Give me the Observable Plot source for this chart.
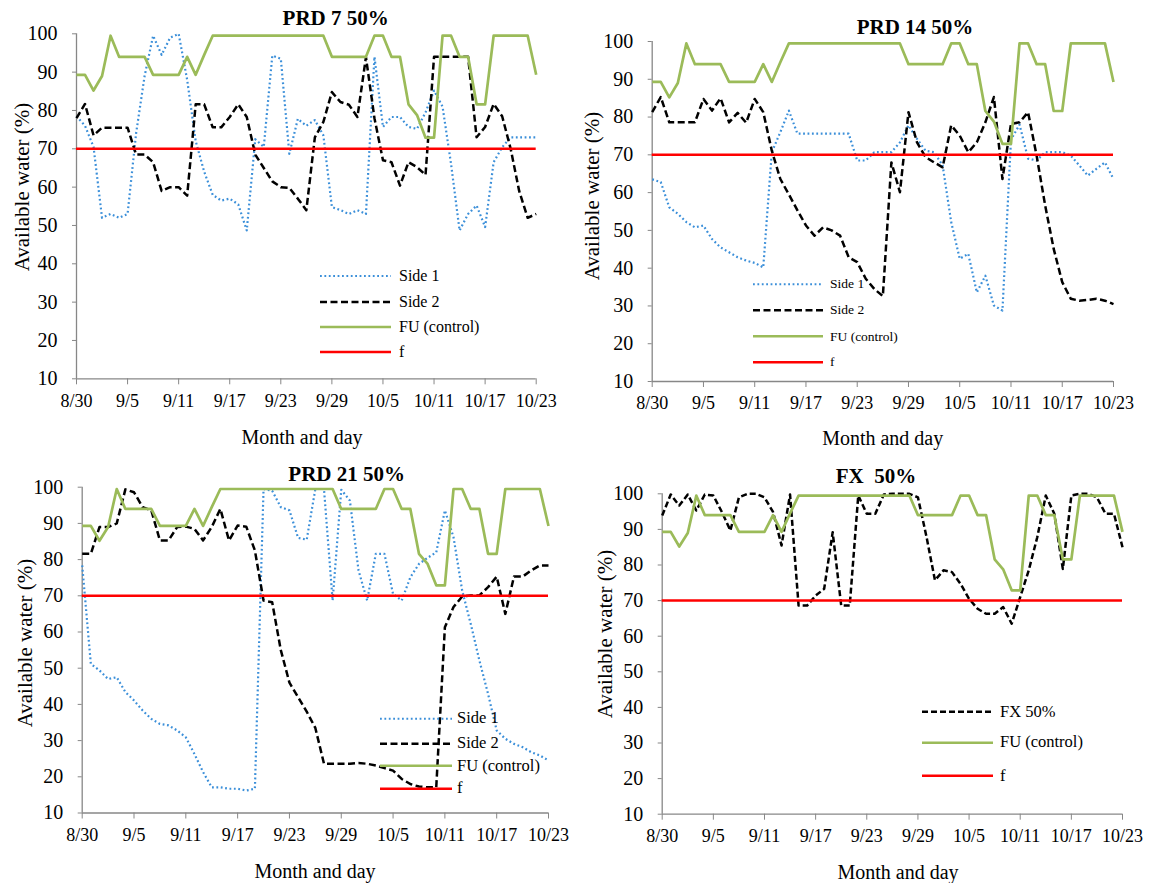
<!DOCTYPE html>
<html><head><meta charset="utf-8">
<script src="https://cdn.jsdelivr.net/npm/d3@7"></script>
<script src="https://cdn.jsdelivr.net/npm/@observablehq/plot@0.6"></script>
<style>
html,body{margin:0;padding:0;background:#fff;}
#root{position:relative;width:1157px;height:883px;overflow:hidden;font-family:"Liberation Serif","Times New Roman",serif;color:#000;}
.panel{position:absolute;}
.panel svg{display:block;}
.panel svg text{font-family:"Liberation Serif","Times New Roman",serif;}
.abs{position:absolute;white-space:pre;line-height:1;font-family:"Liberation Serif","Times New Roman",serif;}
.title{font-weight:bold;font-size:21px;transform:translate(-50%,-50%);}
.xlab{font-size:20px;transform:translate(-50%,-50%);}
.ylab{font-size:21px;transform:translate(-50%,-50%) rotate(-90deg);}
.leg{display:flex;align-items:center;transform:translateY(-50%);}
.leg svg{display:block;}
</style></head><body><div id="root"></div>
<script>
// ---------- data ----------
const dayTicks = [0, 6, 12, 18, 24, 30, 36, 42, 48, 54];
const dayTickLabels = ["8/30", "9/5", "9/11", "9/17", "9/23", "9/29", "10/5", "10/11", "10/17", "10/23"];
const yTicks = [10, 20, 30, 40, 50, 60, 70, 80, 90, 100];
const fLevel = [70];

const fuControl = [89.3, 89.3, 85.2, 89, 99.5, 94, 94, 94, 94, 89.3, 89.3, 89.3, 89.3, 94, 89.3, 94.5,
  99.5, 99.5, 99.5, 99.5, 99.5, 99.5, 99.5, 99.5, 99.5, 99.5, 99.5, 99.5, 99.5, 99.5,
  94, 94, 94, 94, 94, 99.5, 99.5, 94, 94, 81.6, 78.8, 72.9, 72.9, 99.5, 99.5, 94, 94, 81.6, 81.6,
  99.5, 99.5, 99.5, 99.5, 99.5, 89.3];

const prd7Side1 = [78.5, 76, 70.5, 52, 53, 52, 53, 74, 89, 99.5, 94.5, 99, 100, 88, 72, 64, 58, 56.5, 57, 55.5,
  48.7, 72.5, 70.5, 94.3, 93.5, 68.7, 77.8, 76, 77.5, 73.5, 54.8, 54, 53, 54, 53, 94, 75.7, 78.3, 78.3, 75.7,
  75.2, 79.5, 85.2, 81, 66, 48.7, 53, 55.2, 49.6, 66.5, 70.4, 73, 73, 73, 73];
const prd7Side2 = [78, 81.7, 73.5, 75.5, 75.5, 75.5, 75.5, 68.5, 68.5, 66.5, 59, 60, 60, 57.8, 81.6, 81.6, 75.6, 75.6, 78.3, 81.6,
  78.3, 68.5, 65, 61.5, 60, 59.8, 57, 54, 73, 77, 84.8, 82.2, 81.5, 78.3, 93.9, 78, 67, 66.5, 60.4, 66.5,
  65.2, 63.2, 94, 94, 94, 94, 94, 73, 75.7, 81.7, 78.5, 70, 59, 52, 53];

const prd14Side1 = [63.5, 62.8, 56.1, 54.4, 52.2, 50.8, 51.3, 47.7, 45.5, 44.2, 42.9, 42, 41.4, 40.2, 70.7, 76, 81.7, 75.6, 75.6, 75.6,
  75.6, 75.6, 75.6, 75.6, 68.5, 68.5, 70.7, 70.7, 70.7, 73.3, 77.8, 74.2, 71.1, 70.7, 67.2, 52.2, 42.5, 43.8, 33.6, 38,
  30.1, 28.8, 74, 78, 69, 68.5, 70.7, 70.7, 70.7, 69.8, 67.2, 64.5, 66.3, 68, 63.6];
const prd14Side2 = [81.3, 85.3, 78.6, 78.6, 78.6, 78.6, 84.8, 81.7, 85, 78.6, 81.1, 78.5, 84.8, 81.3, 71.1, 63.6, 59.5, 55.3, 51.3, 48.6,
  50.8, 50, 48.6, 42.9, 41.6, 37.2, 34.5, 32.6, 68, 60.1, 81.3, 73.3, 69.4, 68, 66.7, 77.8, 75.1, 70.7, 73.3, 78.6,
  85.3, 63.6, 78.2, 78.6, 81.3, 69.8, 56.6, 45.1, 36.3, 31.9, 31.4, 31.6, 31.9, 31.4, 30.5];

const prd21Side1 = [78.4, 51.2, 49.4, 47, 47.5, 43.4, 41.1, 38.3, 36, 34.6, 34.2, 32.8, 30.9, 26.3, 21.3, 17.1, 17.1, 16.7, 16.7, 16.2,
  16.7, 99.5, 99, 94.5, 93.6, 86, 85.5, 99.5, 99.5, 68.7, 99.3, 96.3, 77, 68.7, 81.6, 81.6, 70.5, 68.7, 75.1, 78.8,
  80.5, 82, 93.6, 86.2, 71.5, 62.2, 52.1, 42.9, 32.8, 30.5, 29.1, 28.2, 26.8, 25.9, 24.5];
const prd21Side2 = [81.6, 81.6, 89, 89, 90, 99.4, 98.6, 94.5, 93.6, 85.3, 85.3, 89, 89.1, 88.5, 85.3, 89, 94, 85.3, 89.4, 89.1,
  82.5, 68.7, 68.2, 55, 46, 42, 38, 33.5, 23.6, 23.6, 23.6, 23.6, 23.8, 23.6, 23.1, 22.4, 21.7, 19.4, 18, 17.3,
  17.1, 17.1, 61.3, 66.9, 69.8, 70.1, 70.1, 72.4, 75.3, 65, 75.3, 75.3, 77, 78.4, 78.4];

const fx50 = [93.9, 99.8, 96.7, 99.8, 95.3, 99.8, 99.5, 94.9, 89.7, 99, 100, 100, 99, 94.9, 85.5, 99.8, 68.6, 68.6, 71.4, 73.3,
  89.2, 68.6, 68.6, 99.5, 94.4, 94.4, 99.8, 100, 100, 100, 99, 88, 75.7, 78.5, 78, 74.7, 70.5, 67.7, 66.3, 66.3,
  68.2, 63.5, 71, 78.5, 87.8, 99.5, 94.4, 78.9, 99.5, 100, 100, 99, 94.4, 94.4, 85];

// ---------- styles ----------
const S1 = {label: "Side 1", stroke: "#3b8fd9", strokeWidth: 2.2, dash: "1.8,2.6"};
const S2 = {label: "Side 2", stroke: "#000000", strokeWidth: 2.5, dash: "7,3.5"};
const FX = {label: "FX 50%", stroke: "#000000", strokeWidth: 2.5, dash: "6,3"};
const FU = {label: "FU (control)", stroke: "#9bbb59", strokeWidth: 2.7, dash: null};
const FF = {label: "f", stroke: "#ff0000", strokeWidth: 2.5, dash: null};
const axisGray = "#878787";
const serif = "'Liberation Serif', 'Times New Roman', serif";

const labelOf = new Map(dayTicks.map((d, i) => [d, dayTickLabels[i]]));

const panels = [
  {left: 0, top: 0, w: 578, h: 441, ml: 76, mr: 42.3, mt: 33.3, mb: 62.7,
   title: "PRD 7 50%", tx: 335.7, ty: 18.3, xlx: 302, xly: 436.7, ylx: 22, yly: 187,
   series: [[prd7Side1, S1], [prd7Side2, S2], [fuControl, FU]],
   legend: {x: 320, len: 71, gap: 8, fs: 16, ys: [276, 301.7, 327, 351.7], items: [S1, S2, FU, FF]}},
  {left: 578, top: 0, w: 579, h: 441, ml: 73.7, mr: 44, mt: 41, mb: 60,
   title: "PRD 14 50%", tx: 915, ty: 27, xlx: 882.7, xly: 438, ylx: 592, yly: 196,
   series: [[prd14Side1, S1], [prd14Side2, S2], [fuControl, FU]],
   legend: {x: 753, len: 70, gap: 7, fs: 13.5, ys: [284, 310, 336.7, 362.3], items: [S1, S2, FU, FF]}},
  {left: 0, top: 441, w: 578, h: 442, ml: 81.7, mr: 30, mt: 45.7, mb: 70.5,
   title: "PRD 21 50%", tx: 346.7, ty: 474, xlx: 315, xly: 871, ylx: 25, yly: 643,
   series: [[prd21Side1, S1], [prd21Side2, S2], [fuControl, FU]],
   legend: {x: 380, len: 72, gap: 5, fs: 16.5, ys: [718.3, 743.3, 766, 788.3], items: [S1, S2, FU, FF]}},
  {left: 578, top: 441, w: 579, h: 442, ml: 83.7, mr: 35, mt: 52.3, mb: 69.3,
   title: "FX  50%", tx: 876, ty: 476, xlx: 898, xly: 871.7, ylx: 604.5, yly: 634,
   series: [[fx50, FX], [fuControl, FU]],
   legend: {x: 922, len: 71, gap: 7, fs: 16.5, ys: [711.7, 742.3, 776], items: [FX, FU, FF]}}
];

const root = document.getElementById("root");

function addText(cls, text, x, y) {
  const d = document.createElement("div");
  d.className = "abs " + cls;
  d.style.left = x + "px";
  d.style.top = y + "px";
  d.textContent = text;
  root.appendChild(d);
}

for (const p of panels) {
  const lineMarks = p.series.map(([values, st]) => Plot.line(values, {
    x: (d, i) => i, y: d => d,
    stroke: st.stroke, strokeWidth: st.strokeWidth,
    strokeDasharray: st.dash || undefined, strokeLinejoin: "round", strokeLinecap: "butt"
  }));
  const chart = Plot.plot({
    width: p.w, height: p.h,
    marginLeft: p.ml, marginRight: p.mr, marginTop: p.mt, marginBottom: p.mb,
    style: {fontFamily: serif, background: "transparent", color: "#000", overflow: "visible"},
    x: {domain: [0, 54]},
    y: {domain: [10, 100]},
    marks: [
      Plot.axisY({ticks: yTicks, tickSize: 4, tickPadding: 15, fontSize: 20, fontFamily: serif, label: null, stroke: axisGray}),
      Plot.axisX({ticks: dayTicks, tickFormat: d => labelOf.get(d), tickSize: 6, tickPadding: 9, fontSize: 18, fontFamily: serif, label: null, stroke: axisGray}),
      Plot.ruleX([0], {stroke: axisGray, strokeWidth: 1.3}),
      Plot.ruleY([10], {stroke: axisGray, strokeWidth: 1.3}),
      ...lineMarks,
      Plot.ruleY(fLevel, {stroke: FF.stroke, strokeWidth: FF.strokeWidth})
    ]
  });
  const wrap = document.createElement("div");
  wrap.className = "panel";
  wrap.style.left = p.left + "px";
  wrap.style.top = p.top + "px";
  wrap.appendChild(chart);
  root.appendChild(wrap);

  addText("title", p.title, p.tx, p.ty);
  addText("xlab", "Month and day", p.xlx, p.xly);
  addText("ylab", "Available water (%)", p.ylx, p.yly);

  const lg = p.legend;
  lg.items.forEach((st, i) => {
    const row = document.createElement("div");
    row.className = "abs leg";
    row.style.left = lg.x + "px";
    row.style.top = lg.ys[i] + "px";
    row.style.fontSize = lg.fs + "px";
    const ns = "http://www.w3.org/2000/svg";
    const svg = document.createElementNS(ns, "svg");
    svg.setAttribute("width", lg.len);
    svg.setAttribute("height", 8);
    const ln = document.createElementNS(ns, "line");
    ln.setAttribute("x1", 0); ln.setAttribute("x2", lg.len);
    ln.setAttribute("y1", 4); ln.setAttribute("y2", 4);
    ln.setAttribute("stroke", st.stroke);
    ln.setAttribute("stroke-width", st.strokeWidth);
    if (st.dash) ln.setAttribute("stroke-dasharray", st.dash);
    svg.appendChild(ln);
    row.appendChild(svg);
    const t = document.createElement("span");
    t.style.marginLeft = lg.gap + "px";
    t.textContent = st.label;
    row.appendChild(t);
    root.appendChild(row);
  });
}
</script></body></html>
